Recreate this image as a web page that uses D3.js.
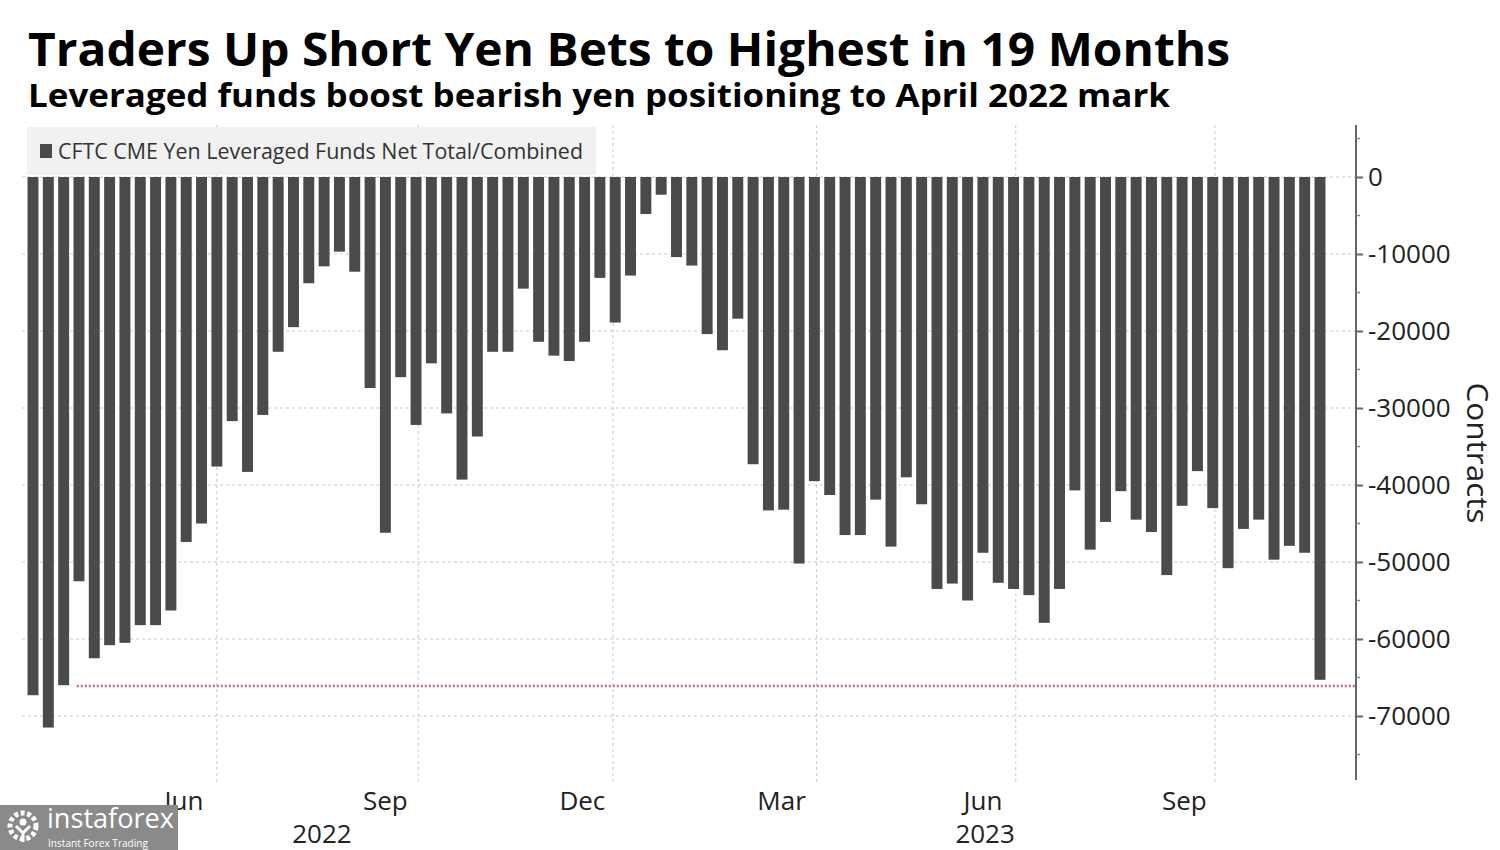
<!DOCTYPE html>
<html>
<head>
<meta charset="utf-8">
<script src="https://cdn.jsdelivr.net/npm/d3@7"></script>
<style>
  html, body { margin: 0; padding: 0; background: #fff; }
  svg { display: block; font-family: "Open Sans", "Noto Sans", sans-serif; }
</style>
</head>
<body>
<svg id="chart" width="1500" height="850"></svg>
<script>
// ---- Data ----
const titleText = "Traders Up Short Yen Bets to Highest in 19 Months";
const subtitleText = "Leveraged funds boost bearish yen positioning to April 2022 mark";
const legendLabel = "CFTC CME Yen Leveraged Funds Net Total/Combined";
const axisTitle = "Contracts";

const firstWeek = "2022-04-08";   // weekly observations (Fridays)
const lastWeek  = "2023-11-17";

const netPositions = [
  -67300, -71500, -66000, -52500, -62500, -60800, -60500, -58200, -58200, -56300,
  -47400, -45000, -37600, -31700, -38300, -30900, -22700, -19500, -13800, -11600,
  -9700, -12300, -27400, -46200, -26000, -32200, -24200, -30700, -39300, -33700,
  -22700, -22700, -14500, -21400, -23200, -23900, -21400, -13100, -18900, -12800,
  -4800, -2300, -10400, -11500, -20400, -22500, -18400, -37300, -43300, -43200,
  -50200, -39500, -41300, -46500, -46500, -41900, -48000, -39000, -42500, -53500,
  -52800, -55000, -48800, -52700, -53500, -54300, -57900, -53500, -40700, -48400,
  -44800, -40800, -44500, -46100, -51700, -42700, -38200, -43000, -50800, -45700,
  -44500, -49700, -47900, -48800, -65300
];

const yTickValues = [0, -10000, -20000, -30000, -40000, -50000, -60000, -70000];
const yMinorTicks = [5000, -5000, -15000, -25000, -35000, -45000, -55000, -65000, -75000];
const quarterLines = ["2022-07-01", "2022-10-01", "2022-12-29", "2023-04-01", "2023-07-01", "2023-09-30"];
const monthLabels = [
  { label: "Jun", date: "2022-06-16" },
  { label: "Sep", date: "2022-09-16" },
  { label: "Dec", date: "2022-12-15" },
  { label: "Mar", date: "2023-03-16" },
  { label: "Jun", date: "2023-06-16" },
  { label: "Sep", date: "2023-09-16" }
];
const yearLabels = [
  { label: "2022", date: "2022-08-18" },
  { label: "2023", date: "2023-06-17" }
];
const refLevel = -66100;            // April 2022 mark
const refStart = "2022-04-28";

// ---- Setup ----
const parse = d3.utcParse("%Y-%m-%d");
const dates = d3.utcFriday.range(parse(firstWeek), d3.utcDay.offset(parse(lastWeek), 1));
const data = dates.map((d, i) => ({ date: d, value: netPositions[i] }));

const svg = d3.select("#chart");
const axisX = 1356;
const plotLeft = 22;

const x = d3.scaleUtc()
  .domain([parse(firstWeek), parse(lastWeek)])
  .range([33, 1320]);

const y = d3.scaleLinear()
  .domain([0, -70000])
  .range([177, 716]);

const gridColor = "#c9c9c9";
const barColor = "#4a4a4a";

// ---- Title ----
svg.append("text")
  .attr("x", 28).attr("y", 66)
  .attr("font-size", 47).attr("font-weight", 700).attr("fill", "#000")
  .attr("textLength", 1202).attr("lengthAdjust", "spacingAndGlyphs")
  .text(titleText);
svg.append("text")
  .attr("x", 28).attr("y", 107)
  .attr("font-size", 32).attr("font-weight", 700).attr("fill", "#000")
  .attr("textLength", 1142).attr("lengthAdjust", "spacingAndGlyphs")
  .text(subtitleText);

// ---- Gridlines ----
const grid = svg.append("g");
grid.selectAll("line.h").data(yTickValues).join("line")
  .attr("x1", plotLeft).attr("x2", axisX)
  .attr("y1", d => y(d)).attr("y2", d => y(d))
  .attr("stroke", gridColor).attr("stroke-width", 1)
  .attr("stroke-dasharray", "3,3");
grid.selectAll("line.v").data(quarterLines.map(parse)).join("line")
  .attr("x1", d => x(d)).attr("x2", d => x(d))
  .attr("y1", y(6750)).attr("y2", 784)
  .attr("stroke", gridColor).attr("stroke-width", 1)
  .attr("stroke-dasharray", "3,3");

// ---- Legend ----
svg.append("rect")
  .attr("x", 27).attr("y", 127).attr("width", 569).attr("height", 48)
  .attr("fill", "#efefef").attr("fill-opacity", 0.9);
svg.append("rect")
  .attr("x", 40).attr("y", 144).attr("width", 12).attr("height", 14)
  .attr("fill", barColor);
svg.append("text")
  .attr("x", 58).attr("y", 159)
  .attr("font-size", 22).attr("fill", "#333")
  .attr("textLength", 525).attr("lengthAdjust", "spacingAndGlyphs")
  .text(legendLabel);

// ---- Bars ----
const barW = x(d3.utcDay.offset(parse(firstWeek), 5)) - x(parse(firstWeek));
svg.append("g").selectAll("rect").data(data).join("rect")
  .attr("x", d => x(d.date) - barW / 2)
  .attr("width", barW)
  .attr("y", y(0))
  .attr("height", d => y(d.value) - y(0))
  .attr("fill", barColor);

// ---- Reference line ----
svg.append("line")
  .attr("x1", x(parse(refStart))).attr("x2", axisX)
  .attr("y1", y(refLevel)).attr("y2", y(refLevel))
  .attr("stroke", "#d0607e").attr("stroke-width", 2.5)
  .attr("stroke-dasharray", "2,2");

// ---- Right axis ----
const yAxis = d3.axisRight(y)
  .tickValues(yTickValues)
  .tickSize(7)
  .tickPadding(5)
  .tickFormat(d => d === 0 ? "0" : "-" + Math.abs(d));
const ax = svg.append("g").attr("transform", `translate(${axisX},0)`).call(yAxis);
ax.select(".domain").remove();
ax.selectAll(".tick line").attr("stroke", "#666").attr("stroke-width", 2);
ax.selectAll(".tick text").attr("font-size", 26).attr("fill", "#222")
  .attr("font-family", '"Open Sans", "Noto Sans", sans-serif');
svg.append("line")
  .attr("x1", axisX).attr("x2", axisX)
  .attr("y1", y(6750)).attr("y2", y(-78300))
  .attr("stroke", "#666").attr("stroke-width", 2);
svg.append("g").selectAll("line").data(yMinorTicks).join("line")
  .attr("x1", axisX).attr("x2", axisX + 4)
  .attr("y1", d => y(d)).attr("y2", d => y(d))
  .attr("stroke", "#888").attr("stroke-width", 1.5);

svg.append("text")
  .attr("transform", `translate(1467,453) rotate(90)`)
  .attr("text-anchor", "middle")
  .attr("font-size", 30).attr("fill", "#222")
  .attr("textLength", 141).attr("lengthAdjust", "spacingAndGlyphs")
  .text(axisTitle);

// ---- Bottom labels ----
svg.append("g").selectAll("text").data(monthLabels).join("text")
  .attr("x", d => x(parse(d.date))).attr("y", 810)
  .attr("text-anchor", "middle").attr("font-size", 26).attr("fill", "#222")
  .text(d => d.label);
svg.append("g").selectAll("text").data(yearLabels).join("text")
  .attr("x", d => x(parse(d.date))).attr("y", 843)
  .attr("text-anchor", "middle").attr("font-size", 26).attr("fill", "#222")
  .text(d => d.label);

// ---- Watermark ----
const wm = svg.append("g");
wm.append("rect").attr("x", 0).attr("y", 805).attr("width", 178).attr("height", 45).attr("fill", "#8a8a8a");
wm.append("circle").attr("cx", 23).attr("cy", 826).attr("r", 13)
  .attr("fill", "none").attr("stroke", "#fff").attr("stroke-width", 5).attr("stroke-dasharray", "4,2.5");
wm.append("circle").attr("cx", 23).attr("cy", 822).attr("r", 3.5).attr("fill", "#fff");
wm.append("path").attr("d", "M16,826 L23,833 L30,826 M23,833 L23,842")
  .attr("fill", "none").attr("stroke", "#fff").attr("stroke-width", 3);
wm.append("text").attr("x", 47).attr("y", 828)
  .attr("font-size", 27).attr("fill", "#fff")
  .attr("textLength", 127).attr("lengthAdjust", "spacingAndGlyphs")
  .text("instaforex");
wm.append("text").attr("x", 48).attr("y", 847)
  .attr("font-size", 10).attr("fill", "#fff")
  .attr("textLength", 100).attr("lengthAdjust", "spacingAndGlyphs")
  .text("Instant Forex Trading");
</script>
</body>
</html>
